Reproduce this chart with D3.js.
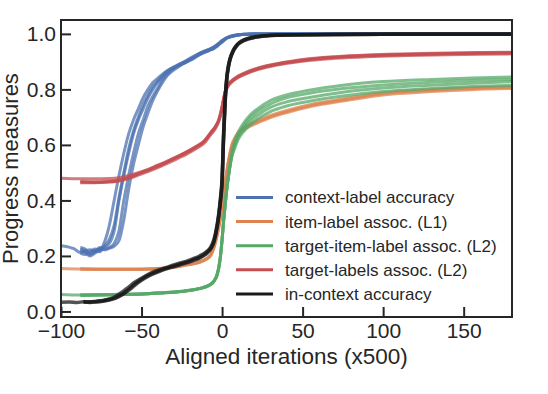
<!DOCTYPE html>
<html>
<head>
<meta charset="utf-8">
<script src="https://cdn.jsdelivr.net/npm/d3@7"></script>
<style>
  html, body { margin: 0; padding: 0; background: #fff; }
  svg text { font-family: "Liberation Sans", Arial, sans-serif; fill: #262626; }
</style>
</head>
<body>
<svg id="chart" width="548" height="394"></svg>
<script>
// tick labels
var xTicks = [-100, -50, 0, 50, 100, 150];
var yTicks = [0, 0.2, 0.4, 0.6, 0.8, 1.0];

var seriesNames = ["context-label accuracy", "item-label assoc. (L1)", "target-item-label assoc. (L2)",
    "target-labels assoc. (L2)", "in-context accuracy"];

// context-label accuracy (blue), one run per array
var blueX = [-100, -96, -92, -88, -85, -82, -79, -76, -73, -70, -67, -64, -61, -58, -55, -52, -49, -46, -43, -40,
    -37, -34, -30, -26, -22, -18, -14, -10, -6, -3, 0, 3, 6, 10, 15, 20, 30, 50, 80, 120, 180];
var blueRun1 = [.237, .233, .226, .212, .218, .222, .216, .226, .232, .245, .29, .40, .49, .57, .64, .69, .73, .77, .80, .825,
    .845, .862, .878, .89, .9, .915, .925, .935, .945, .955, .972, .985, .99, .996, .999, 1, 1, 1, 1, 1, 1];
var blueRun2 = [null, null, null, .21, .205, .215, .225, .222, .25, .31, .40, .49, .57, .64, .69, .73, .77, .80, .825, .84,
    .855, .868, .88, .893, .903, .915, .93, .936, .948, .958, .974, .986, .992, .997, .999, 1, 1, 1, 1, 1, 1];
var blueRun3 = [null, null, null, .22, .212, .2, .21, .22, .225, .23, .245, .29, .40, .49, .57, .64, .69, .74, .775, .805,
    .835, .855, .875, .888, .898, .912, .928, .94, .944, .96, .97, .984, .991, .996, .998, 1, 1, 1, 1, 1, 1];
var blueRun4 = [null, null, null, .225, .218, .205, .215, .23, .222, .228, .235, .255, .33, .44, .53, .60, .665, .715, .76, .795,
    .825, .85, .87, .885, .9, .91, .925, .938, .95, .96, .975, .986, .992, .996, .999, 1, 1, 1, 1, 1, 1];
var blueRun5 = [null, null, null, .23, .225, .21, .22, .215, .235, .26, .31, .41, .50, .585, .65, .70, .745, .78, .81, .83,
    .85, .865, .88, .89, .905, .918, .93, .94, .95, .962, .976, .987, .993, .997, .999, 1, 1, 1, 1, 1, 1];

// item-label assoc. (L1) (orange)
var orangeX = [-100, -88, -70, -55, -45, -38, -30, -24, -18, -14, -10, -7, -5, -3, -1, 0, 1, 2, 3, 4, 5, 6, 8, 10, 13, 17,
    22, 30, 40, 55, 75, 100, 130, 155, 180];
var orangeRun1 = [.155, .153, .152, .152, .153, .155, .16, .166, .172, .178, .188, .203, .232, .278, .338, .378, .425, .468,
    .505, .54, .57, .595, .622, .64, .656, .67, .683, .702, .72, .742, .762, .784, .796, .803, .807];
var orangeRun2 = [null, .152, .151, .151, .152, .154, .159, .165, .171, .177, .187, .202, .23, .275, .335, .375, .42, .463,
    .5, .535, .565, .59, .617, .636, .652, .666, .679, .698, .716, .738, .758, .78, .792, .799, .803];
var orangeRun3 = [null, .154, .153, .153, .154, .156, .161, .167, .173, .179, .19, .205, .235, .282, .342, .382, .43, .472,
    .51, .545, .574, .6, .627, .645, .66, .674, .688, .706, .724, .746, .766, .788, .8, .806, .81];

// target-item-label assoc. (L2) (green)
var greenX = [-100, -88, -75, -60, -45, -35, -25, -18, -12, -8, -6, -4, -3, -2, -1, 0, 1, 2, 3, 4, 5, 6, 8, 10, 13, 17,
    22, 30, 40, 55, 75, 100, 130, 155, 180];
var greenRun1 = [.061, .059, .06, .062, .065, .068, .073, .078, .086, .095, .103, .12, .135, .16, .2, .26, .33, .39, .445,
    .49, .53, .57, .615, .645, .675, .705, .73, .76, .78, .798, .815, .828, .836, .841, .845];
var greenRun2 = [null, .058, .059, .061, .064, .067, .072, .077, .085, .094, .102, .118, .133, .158, .198, .258, .328, .388,
    .443, .488, .528, .565, .605, .635, .665, .695, .72, .748, .77, .787, .803, .816, .826, .832, .836];
var greenRun3 = [null, .059, .06, .062, .065, .068, .073, .078, .086, .095, .103, .12, .135, .16, .2, .26, .33, .39, .445,
    .49, .528, .56, .6, .628, .655, .683, .707, .735, .755, .772, .79, .805, .815, .822, .828];
var greenRun4 = [null, .058, .059, .061, .064, .067, .072, .077, .085, .094, .102, .118, .133, .158, .198, .258, .328, .388,
    .443, .488, .525, .555, .59, .62, .645, .67, .693, .72, .74, .758, .776, .792, .803, .81, .815];

// target-labels assoc. (L2) (red)
var redX = [-100, -88, -80, -70, -64, -58, -52, -46, -40, -34, -28, -22, -16, -11, -7, -4, -2, 0, 1, 2, 3, 4, 6, 9, 13,
    18, 24, 32, 42, 55, 70, 90, 115, 140, 160, 180];
var redRun1 = [.48, .478, .478, .479, .482, .49, .50, .512, .527, .542, .558, .575, .595, .615, .645, .668, .692, .738, .768,
    .795, .81, .82, .832, .845, .857, .869, .88, .891, .901, .911, .918, .924, .928, .931, .933, .934];
var redRun2 = [null, .466, .465, .467, .472, .482, .495, .508, .522, .538, .555, .572, .592, .612, .642, .665, .689, .735,
    .765, .792, .807, .817, .829, .842, .854, .866, .877, .888, .898, .908, .915, .921, .925, .928, .93, .931];
var redRun3 = [null, .464, .464, .466, .47, .479, .491, .504, .518, .533, .55, .567, .587, .607, .637, .66, .685, .73, .76,
    .787, .803, .813, .826, .839, .851, .863, .874, .885, .895, .905, .912, .918, .922, .925, .927, .928];
var redRun4 = [null, .468, .467, .469, .474, .484, .497, .51, .525, .54, .557, .574, .594, .614, .644, .667, .69, .736, .766,
    .793, .808, .818, .83, .843, .855, .867, .878, .889, .899, .909, .916, .922, .926, .929, .931, .932];

// in-context accuracy (black)
var blackX = [-100, -95, -90, -86, -82, -78, -74, -70, -66, -62, -58, -54, -50, -46, -42, -38, -34, -30, -26, -22, -18,
    -14, -10, -7, -5, -3, -2, -1, 0, 1, 2, 3, 4, 5, 7, 9, 12, 16, 22, 30, 45, 70, 100, 140, 180];
var blackRun1 = [.033, .034, .032, .035, .034, .037, .038, .043, .05, .062, .08, .1, .116, .13, .14, .149, .157, .164, .171,
    .178, .186, .195, .21, .228, .255, .31, .35, .40, .47, .64, .77, .845, .885, .91, .94, .958, .972, .982, .99, .994,
    .997, .998, .999, .999, .999];
var blackRun2 = [null, null, null, .036, .032, .036, .04, .045, .055, .07, .088, .106, .12, .133, .144, .152, .16, .168,
    .175, .181, .19, .2, .214, .232, .26, .315, .355, .41, .48, .65, .775, .848, .888, .912, .942, .96, .974, .984, .991,
    .995, .997, .998, .999, 1, 1];
var blackRun3 = [null, null, null, .033, .035, .034, .037, .041, .048, .06, .076, .095, .112, .126, .137, .146, .154, .161,
    .168, .175, .183, .192, .206, .225, .25, .305, .345, .395, .46, .63, .76, .84, .88, .908, .938, .956, .971, .981, .989,
    .994, .996, .998, .999, .999, .999];

var colors = ["#4c72b0", "#dd8452", "#55a868", "#c44e52", "#1a1a1a"];

var svg = d3.select("#chart");
var plotL = 61, plotR = 512, plotT = 20, plotB = 317;

var x = d3.scaleLinear().domain([-100, 180]).range([plotL, plotR]);
var y = d3.scaleLinear().domain([-0.02, 1.05]).range([plotB, plotT]);

var groups = [
    {xs: blueX, runs: [blueRun1, blueRun2, blueRun3, blueRun4, blueRun5]},
    {xs: orangeX, runs: [orangeRun1, orangeRun2, orangeRun3]},
    {xs: greenX, runs: [greenRun1, greenRun2, greenRun3, greenRun4]},
    {xs: redX, runs: [redRun1, redRun2, redRun3, redRun4]},
    {xs: blackX, runs: [blackRun1, blackRun2, blackRun3]}
];

svg.append("clipPath").attr("id", "plot-clip")
    .append("rect").attr("x", plotL).attr("y", plotT).attr("width", plotR - plotL).attr("height", plotB - plotT);

var plot = svg.append("g").attr("clip-path", "url(#plot-clip)");

var line = d3.line()
    .defined(function (d) { return d[1] !== null; })
    .x(function (d) { return x(d[0]); })
    .y(function (d) { return y(d[1]); })
    .curve(d3.curveMonotoneX);

groups.forEach(function (g, i) {
    g.runs.forEach(function (run) {
        var pts = g.xs.map(function (v, k) { return [v, run[k]]; });
        plot.append("path")
            .attr("d", line(pts))
            .attr("fill", "none")
            .attr("stroke", colors[i])
            .attr("stroke-width", i === 4 ? 3.5 : 3)
            .attr("stroke-opacity", 0.75);
    });
});

// axes, ticks pointing inward
var xAxis = svg.append("g").attr("transform", "translate(0," + plotB + ")")
    .call(d3.axisBottom(x).tickValues(xTicks).tickSize(-10).tickPadding(6));
var yAxis = svg.append("g").attr("transform", "translate(" + plotL + ",0)")
    .call(d3.axisLeft(y).tickValues(yTicks).tickSize(-10).tickPadding(5).tickFormat(d3.format(".1f")));

[xAxis, yAxis].forEach(function (a) {
    a.select(".domain").remove();
    a.selectAll(".tick line").attr("stroke", "#262626").attr("stroke-width", 2);
    a.selectAll(".tick text").attr("font-size", 21).attr("font-family", null).style("fill", "#262626");
});

svg.append("rect")
    .attr("x", plotL).attr("y", plotT)
    .attr("width", plotR - plotL).attr("height", plotB - plotT)
    .attr("fill", "none").attr("stroke", "#262626").attr("stroke-width", 2);

svg.append("text")
    .attr("x", (plotL + plotR) / 2).attr("y", 364)
    .attr("text-anchor", "middle").attr("font-size", 22.5)
    .text("Aligned iterations (x500)");

svg.append("text")
    .attr("transform", "translate(18," + (plotT + plotB) / 2 + ") rotate(-90)")
    .attr("text-anchor", "middle").attr("font-size", 22)
    .text("Progress measures");

// legend
var legend = svg.append("g").attr("transform", "translate(236,197.5)");
seriesNames.forEach(function (name, i) {
    var row = legend.append("g").attr("transform", "translate(0," + (i * 24.1) + ")");
    row.append("line").attr("x1", 0).attr("x2", 37).attr("y1", 0).attr("y2", 0)
        .attr("stroke", colors[i]).attr("stroke-width", 3);
    row.append("text").attr("x", 49).attr("y", 0).attr("dy", "0.35em")
        .attr("font-size", 17).text(name);
});
</script>
</body>
</html>
